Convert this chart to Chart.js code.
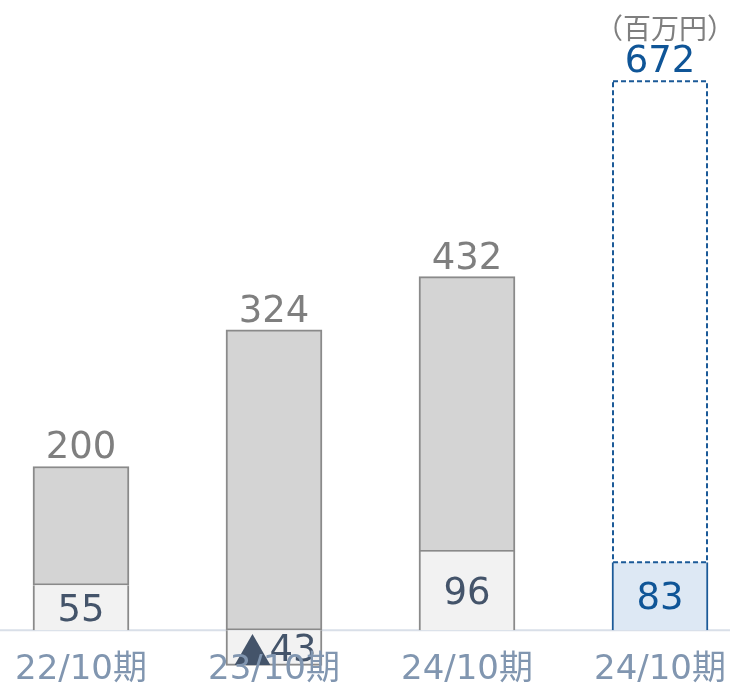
<!DOCTYPE html>
<html lang="ja">

<head>
    <meta charset="UTF-8">
    <title>Bar chart</title>
    <style>
        body { margin: 0; background: #fff; }
    </style>
</head>

<body>
    <canvas id="chartCanvas" width="730" height="685"></canvas>

    <!-- Chart.js -->
    <script src="https://cdn.jsdelivr.net/npm/chart.js"></script>

    <script>
        // data
        const categories = ['22/10期', '23/10期', '24/10期', '24/10期'];
        const totalLabels = ['200', '324', '432', '672'];
        const baseValues = [55, -43, 96, 83];
        const upperValues = [145, 367, 336, 589];
        const unitLabel = '（百万円）';

        const numFont = '"DejaVu Sans", "Noto Sans CJK JP", sans-serif';
        const cjkFont = '"Noto Sans CJK JP", sans-serif';
        const grey = '#8a8a8a';
        const blue = '#1b5a98';

        // labels, baseline, dashed outline of the last bar
        const labelPlugin = {
            id: 'labelPlugin',
            beforeDatasetsDraw(chart) {
                const ctx = chart.ctx;
                const y0 = chart.scales.y.getPixelForValue(0);
                ctx.save();
                ctx.strokeStyle = '#d9dfe8';
                ctx.lineWidth = 2;
                ctx.beginPath();
                ctx.moveTo(0, y0);
                ctx.lineTo(chart.width, y0);
                ctx.stroke();
                ctx.restore();
            },
            afterDatasetsDraw(chart) {
                const ctx = chart.ctx;
                const y0 = chart.scales.y.getPixelForValue(0);
                const lower = chart.getDatasetMeta(0).data;
                const upper = chart.getDatasetMeta(1).data;
                ctx.save();

                // dashed outline for the forecast bar
                const last = upper[3];
                ctx.strokeStyle = blue;
                ctx.lineWidth = 2;
                ctx.setLineDash([5, 3]);
                ctx.strokeRect(last.x - last.width / 2 + 1, last.y + 1, last.width - 2, last.base - last.y - 1);
                ctx.setLineDash([]);

                ctx.textBaseline = 'alphabetic';
                ctx.textAlign = 'center';
                ctx.font = '37px ' + numFont;
                upper.forEach((bar, i) => {
                    ctx.fillStyle = i === 3 ? '#0f5597' : '#7f7f7f';
                    ctx.fillText(totalLabels[i], bar.x, bar.y - 8);
                });

                lower.forEach((bar, i) => {
                    const v = baseValues[i];
                    const yText = (bar.y + bar.base) / 2 + 13;
                    ctx.fillStyle = i === 3 ? '#0f5597' : '#44546a';
                    if (v < 0) {
                        // negative shown with a triangle mark
                        const num = String(-v);
                        ctx.font = '38px ' + cjkFont;
                        const wTri = ctx.measureText('▲').width;
                        ctx.font = '37px ' + numFont;
                        const wNum = ctx.measureText(num).width;
                        const left = bar.x - (wTri + wNum) / 2 + 2;
                        ctx.textAlign = 'left';
                        ctx.font = '38px ' + cjkFont;
                        ctx.fillText('▲', left, yText + 4);
                        ctx.font = '37px ' + numFont;
                        ctx.fillText(num, left + wTri - 2, yText);
                        ctx.textAlign = 'center';
                    } else {
                        ctx.font = '37px ' + numFont;
                        ctx.fillText(String(v), bar.x, yText);
                    }
                });

                // category labels
                ctx.font = '34px ' + numFont;
                ctx.fillStyle = '#8196b0';
                ctx.textBaseline = 'middle';
                ctx.textAlign = 'center';
                categories.forEach((c, i) => {
                    ctx.fillText(c, chart.scales.x.getPixelForValue(i), y0 + 40);
                });

                // unit
                ctx.font = '28px ' + cjkFont;
                ctx.fillStyle = '#7f7f7f';
                ctx.textAlign = 'right';
                ctx.fillText(unitLabel, chart.width + 5, 28);
                ctx.restore();
            }
        };

        const ctx = document.getElementById('chartCanvas').getContext('2d');
        new Chart(ctx, {
            type: 'bar',
            data: {
                labels: categories,
                datasets: [{
                    label: 'base',
                    data: baseValues,
                    backgroundColor: ['#f2f2f2', '#f2f2f2', '#f2f2f2', '#dde8f4'],
                    borderColor: [grey, grey, grey, blue],
                    borderWidth: c => c.dataIndex === 3 ? { left: 2, right: 2, top: 0, bottom: 0 } : { left: 2, right: 2, top: 0, bottom: 2 },
                    borderSkipped: 'start',
                    barThickness: 96,
                    clip: false
                }, {
                    label: 'upper',
                    data: upperValues,
                    backgroundColor: ['#d4d4d4', '#d4d4d4', '#d4d4d4', 'rgba(255,255,255,0)'],
                    borderColor: [grey, grey, grey, blue],
                    borderWidth: [2, 2, 2, 0],
                    borderSkipped: false,
                    barThickness: 96,
                    clip: false
                }]
            },
            options: {
                responsive: false,
                animation: false,
                devicePixelRatio: 1,
                layout: {
                    padding: { left: 81, right: 70, top: 0, bottom: 0 }
                },
                plugins: {
                    legend: { display: false },
                    tooltip: { enabled: false }
                },
                scales: {
                    x: {
                        display: false,
                        offset: false,
                        stacked: true
                    },
                    y: {
                        display: false,
                        stacked: true,
                        min: -67,
                        max: 770
                    }
                }
            },
            plugins: [labelPlugin]
        });
    </script>

</body>

</html>
